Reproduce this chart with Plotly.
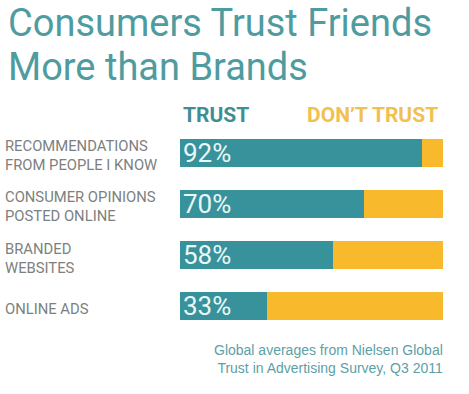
import plotly.graph_objects as go

categories = ["RECOMMENDATIONS<br>FROM PEOPLE I KNOW",
              "CONSUMER OPINIONS<br>POSTED ONLINE",
              "BRANDED<br>WEBSITES",
              "ONLINE ADS"]
trust = [92, 70, 58, 33]
dont_trust = [100 - v for v in trust]
title_lines = ["Consumers Trust Friends", "More than Brands"]
header_labels = ["TRUST", "DON\u2019T TRUST"]
footnote = "Global averages from Nielsen Global<br>Trust in Advertising Survey, Q3 2011"

W, H = 469, 394
L, R, T, B = 180, 26, 127, 62
PW = W - L - R
PH = H - T - B

def px_x(px):
    return (px - L) / PW

def px_y(py):
    return 1 - (py - T) / PH

TEAL = "#38929b"
YELLOW = "#f8b92c"
FONT = "Roboto"

fig = go.Figure()
fig.add_trace(go.Bar(
    y=categories, x=trust, orientation="h", name="TRUST",
    marker=dict(color=TEAL, line=dict(width=0)),
    text=[f"{v}%" for v in trust], textposition="inside",
    insidetextanchor="start", constraintext="none",
    textfont=dict(family=FONT, size=26, color="#e9f8f8"),
    width=0.55, hoverinfo="skip"))
fig.add_trace(go.Bar(
    y=categories, x=dont_trust, orientation="h", name="DON'T TRUST",
    marker=dict(color=YELLOW, line=dict(width=0)),
    width=0.55, hoverinfo="skip"))

ann = []
ann.append(dict(text=title_lines[0], x=px_x(6), y=px_y(23), xref="paper", yref="paper",
                xanchor="left", yanchor="middle", showarrow=False,
                font=dict(family=FONT, size=38, color="#4f9ca0")))
ann.append(dict(text=title_lines[1], x=px_x(6), y=px_y(67), xref="paper", yref="paper",
                xanchor="left", yanchor="middle", showarrow=False,
                font=dict(family=FONT, size=38, color="#4f9ca0")))
ann.append(dict(text="<b>" + header_labels[0] + "</b>", x=px_x(181), y=px_y(115),
                xref="paper", yref="paper", xanchor="left", yanchor="middle",
                showarrow=False, font=dict(family=FONT, size=21, color="#3f8e93")))
ann.append(dict(text="<b>" + header_labels[1] + "</b>", x=px_x(440), y=px_y(115),
                xref="paper", yref="paper", xanchor="right", yanchor="middle",
                showarrow=False, font=dict(family=FONT, size=21, color="#f1c04f")))
for c in categories:
    ann.append(dict(text=c, x=px_x(3), y=c, xref="paper", yref="y",
                    xanchor="left", yanchor="middle", align="left", showarrow=False,
                    yshift=-3,
                    font=dict(family=FONT, size=14.8, color="#7d7f80")))
ann.append(dict(text=footnote, x=px_x(445), y=px_y(359), xref="paper", yref="paper",
                xanchor="right", yanchor="middle", align="right", showarrow=False,
                font=dict(family="Liberation Sans", size=14, color="#5c9fa6")))

fig.update_layout(
    width=W, height=H, barmode="stack", bargap=0,
    margin=dict(l=L, r=R, t=T, b=B, autoexpand=False),
    paper_bgcolor="white", plot_bgcolor="white",
    showlegend=False, annotations=ann,
    xaxis=dict(range=[0, 100], visible=False, fixedrange=True),
    yaxis=dict(autorange="reversed", visible=False, type="category", fixedrange=True),
)

fig.write_html("out.html", config={"displayModeBar": False},
               post_script="document.body.style.margin='0';document.body.style.overflow='hidden';")
